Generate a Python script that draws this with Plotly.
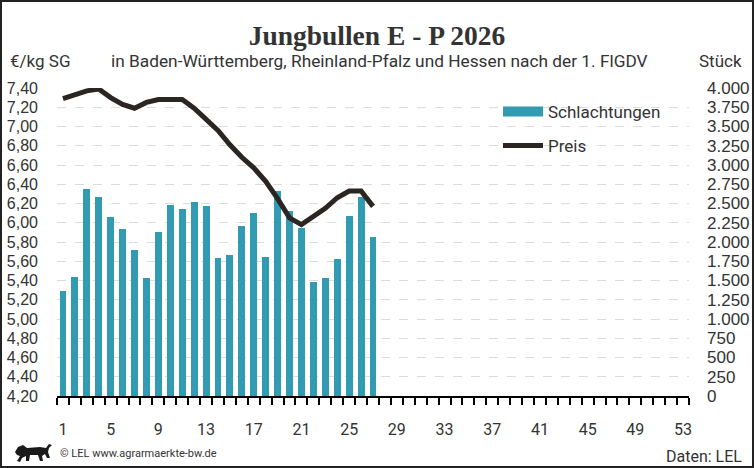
import plotly.graph_objects as go

# ---- data ----
weeks = list(range(1, 28))
schlachtungen = [1364, 1545, 2688, 2584, 2325, 2169, 1896, 1532, 2130, 2480,
                 2429, 2519, 2467, 1792, 1831, 2208, 2377, 1805, 2662, 2403,
                 2182, 1481, 1532, 1779, 2338, 2584, 2065]
preis = [7.29, 7.33, 7.37, 7.39, 7.30, 7.23, 7.19, 7.25, 7.28, 7.28,
         7.28, 7.19, 7.08, 6.96, 6.81, 6.68, 6.57, 6.43, 6.25, 6.05,
         5.98, 6.07, 6.15, 6.26, 6.33, 6.33, 6.17]
x_tickvals = list(range(1, 54, 4))
price_ticks = [round(4.2 + 0.2 * i, 2) for i in range(17)]

title = "Jungbullen E - P 2026"
subtitle = "in Baden-Württemberg, Rheinland-Pfalz und Hessen nach der 1. FlGDV"

# ---- layout geometry (pixels) ----
W, H = 754, 468
L, R, T, B = 57, 689, 88, 396

def px_x(p):
    return (p - L) / (R - L)

def px_y(p):
    return (B - p) / (B - T)

TEAL = "#319cb1"
DARK = "#2b2624"
TXT = "#333333"

fig = go.Figure()

fig.add_trace(go.Bar(
    x=weeks, y=schlachtungen, name="Schlachtungen", yaxis="y",
    marker=dict(color=TEAL, line=dict(width=0)), width=0.58, showlegend=False,
))
fig.add_trace(go.Scatter(
    x=weeks, y=preis, name="Preis", yaxis="y2", mode="lines",
    line=dict(color=DARK, width=5), cliponaxis=False, legend="legend2",
))
# legend swatch for bars
fig.add_trace(go.Scatter(
    x=[None], y=[None], name="Schlachtungen", mode="lines",
    line=dict(color=TEAL, width=11), legend="legend",
))

fig.update_layout(
    width=W, height=H,
    margin=dict(l=L, r=W - R, t=T, b=H - B, pad=0, autoexpand=False),
    paper_bgcolor="white", plot_bgcolor="white",
    separators=",.",
    font=dict(family="Roboto", size=16, color=TXT),
    bargap=0,
    xaxis=dict(
        range=[0.5, 53.5], tickmode="array", tickvals=x_tickvals, ticks="",
        showline=True, linecolor="black", linewidth=2, showgrid=False,
        zeroline=False, ticklabelstandoff=18, automargin=False,
        tickfont=dict(family="Roboto", size=16, color=TXT),
        minor=dict(tickmode="array", tickvals=[0.5 + i for i in range(54)],
                   ticks="outside", ticklen=7, tickwidth=2, tickcolor="black",
                   showgrid=False),
    ),
    yaxis=dict(
        side="right", range=[0, 4000], tickmode="linear", tick0=0, dtick=250,
        tickformat=",d", showgrid=True, gridcolor="#dcdcdc", griddash="dash",
        gridwidth=1, zeroline=False, showline=False, ticks="",
        ticklabelstandoff=17, automargin=False,
        tickfont=dict(family="Liberation Sans", size=17, color=TXT),
    ),
    yaxis2=dict(
        side="left", overlaying="y", range=[4.2, 7.4], tickmode="array",
        tickvals=price_ticks, tickformat=".2f", showgrid=False, zeroline=False,
        showline=False, ticks="", ticklabelstandoff=18, automargin=False,
        tickfont=dict(family="Liberation Sans", size=16, color=TXT),
    ),
    legend=dict(x=px_x(498), y=px_y(112), xanchor="left", yanchor="middle",
                itemwidth=40, bgcolor="rgba(0,0,0,0)",
                font=dict(family="Roboto", size=17, color=TXT)),
    legend2=dict(x=px_x(498), y=px_y(146), xanchor="left", yanchor="middle",
                 itemwidth=40, bgcolor="rgba(0,0,0,0)",
                 font=dict(family="Roboto", size=17, color=TXT)),
    title=dict(text=title, x=0.5, xref="container", xanchor="center",
               y=1 - 35 / H, yref="container", yanchor="middle",
               font=dict(family="Liberation Serif", size=27.5, color=TXT,
                         weight="bold")),
)

annos = [
    dict(text=subtitle, x=px_x(380), y=px_y(61), xanchor="center",
         font=dict(family="Roboto", size=17.3, color=TXT)),
    dict(text="€/kg SG", x=px_x(8), y=px_y(61), xanchor="left",
         font=dict(family="Roboto", size=17, color=TXT)),
    dict(text="Stück", x=px_x(744), y=px_y(61), xanchor="right",
         font=dict(family="Roboto", size=17, color=TXT)),
    dict(text="© LEL www.agrarmaerkte-bw.de", x=px_x(58), y=px_y(454),
         xanchor="left", font=dict(family="Roboto", size=11, color=TXT)),
    dict(text="Daten: LEL", x=px_x(744), y=px_y(456), xanchor="right",
         font=dict(family="Roboto", size=16, color=TXT)),
]
for a in annos:
    fig.add_annotation(xref="paper", yref="paper", yanchor="middle",
                       showarrow=False, **a)

# outer frame
fig.add_shape(type="rect", xref="paper", yref="paper",
              x0=px_x(1), x1=px_x(753), y0=px_y(467), y1=px_y(1),
              line=dict(color="#222222", width=2), fillcolor="rgba(0,0,0,0)",
              layer="above")

# small lion logo (decorative silhouette)
lion = [(15, 452), (18, 447), (23, 445), (27, 448), (40, 447), (46, 448),
        (49, 444), (52, 445), (49, 448), (48, 452), (50, 458), (47, 458),
        (45, 454), (42, 456), (43, 461), (40, 461), (38, 455), (30, 455),
        (29, 461), (26, 461), (26, 456), (22, 458), (20, 462), (17, 461),
        (20, 456), (17, 455)]
path = "M " + " L ".join(f"{px_x(a):.5f},{px_y(b):.5f}" for a, b in lion) + " Z"
fig.add_shape(type="path", xref="paper", yref="paper", path=path,
              fillcolor="#1a1a1a", line=dict(width=0), layer="above")

fig.write_html("out.html")
